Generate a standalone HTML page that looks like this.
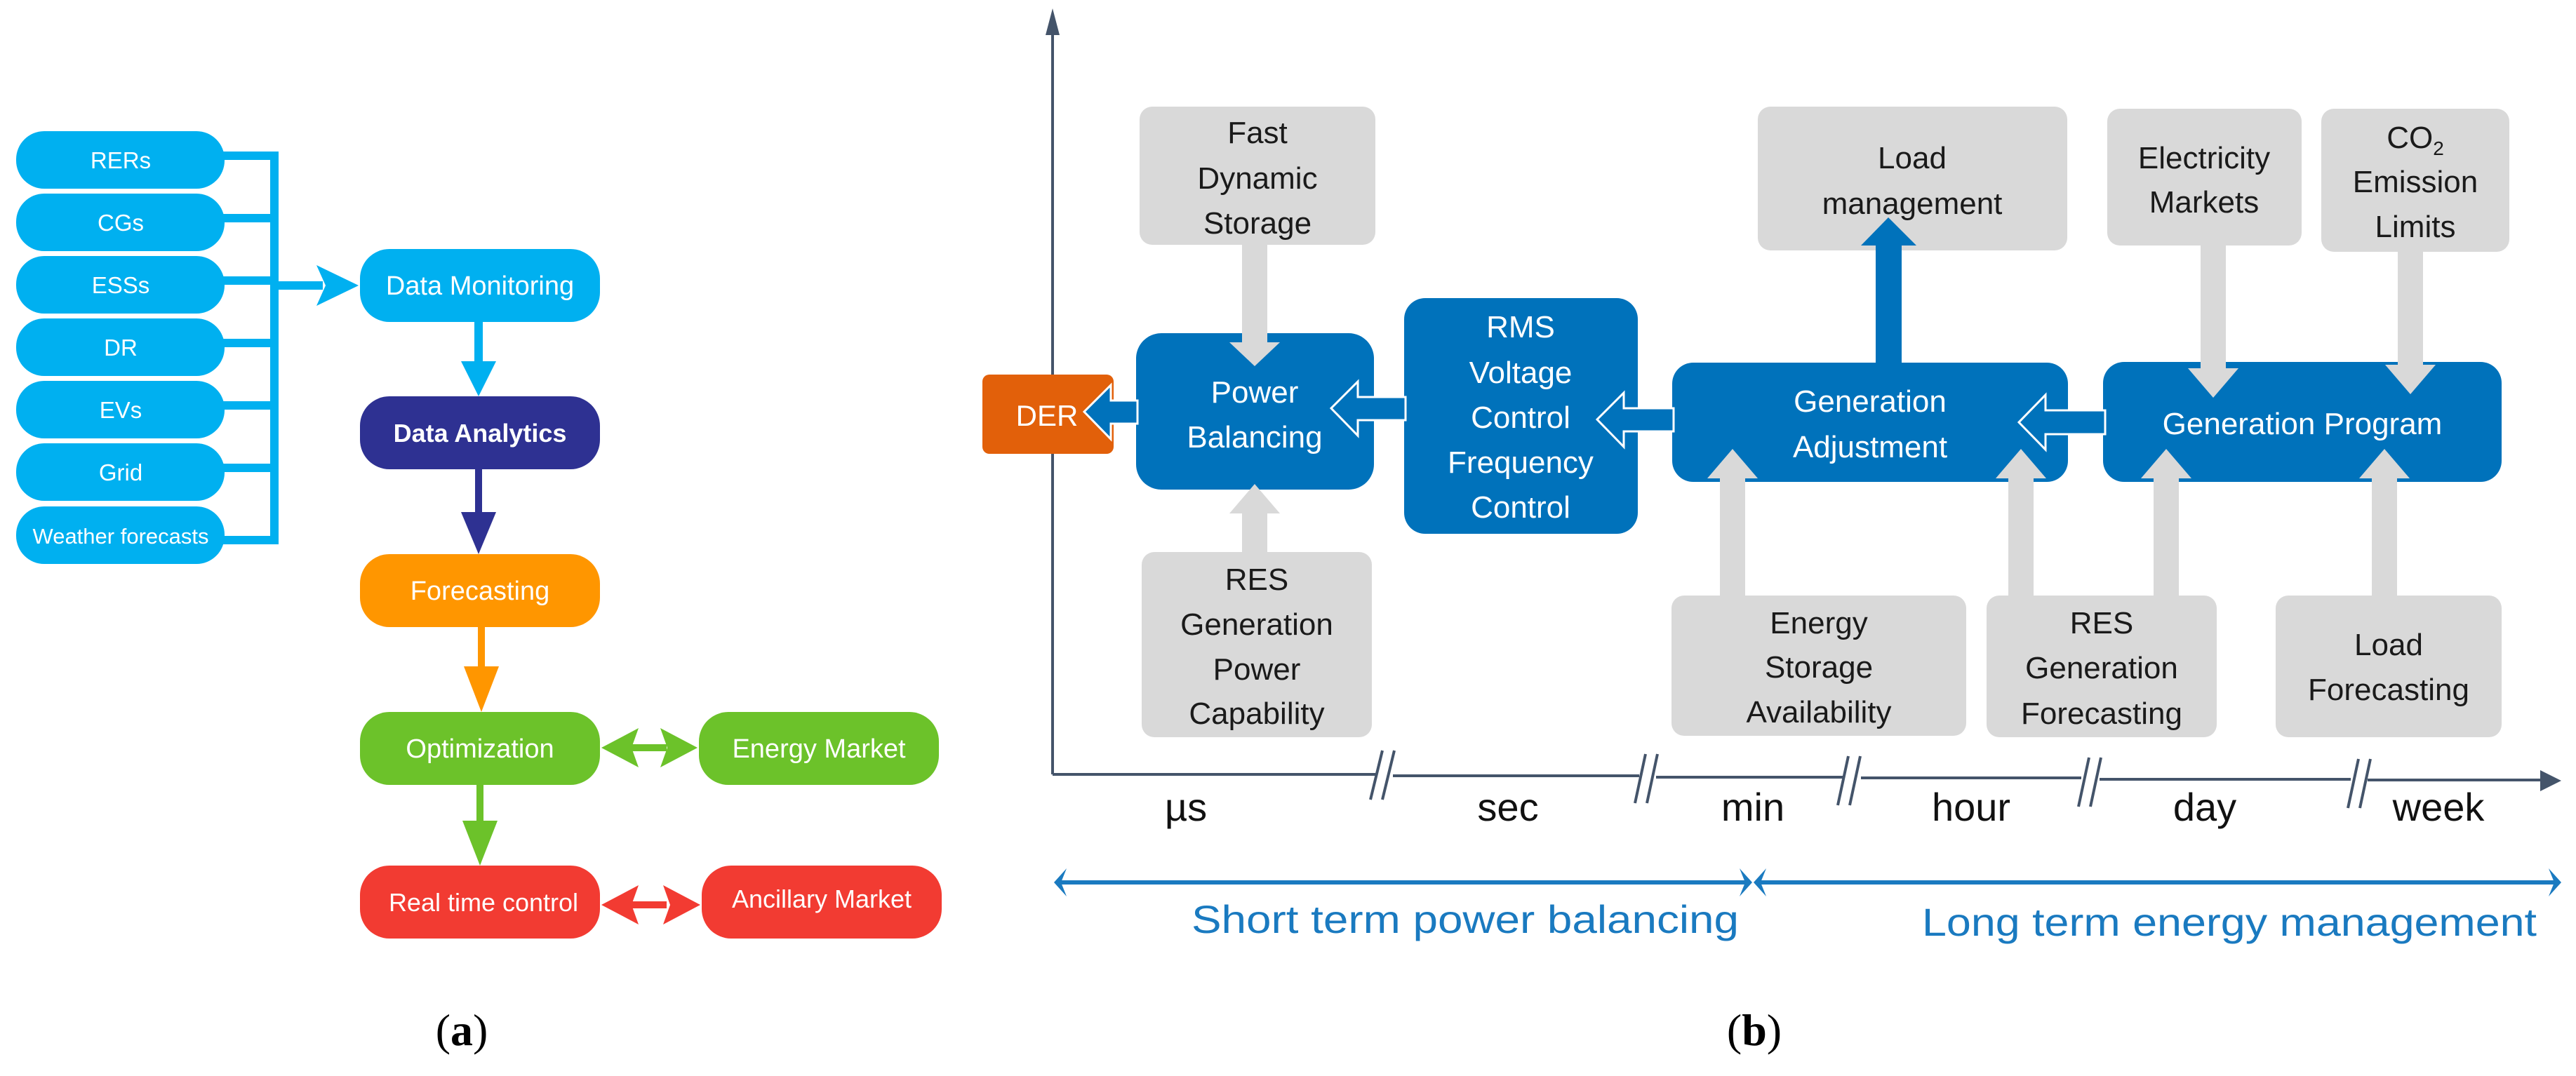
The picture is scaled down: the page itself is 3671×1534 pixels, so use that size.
<!DOCTYPE html>
<html><head><meta charset="utf-8"><style>html,body{margin:0;padding:0;background:#fff}svg{display:block}</style></head>
<body>
<svg width="3671" height="1534" viewBox="0 0 3671 1534" xmlns="http://www.w3.org/2000/svg" font-family="Liberation Sans, sans-serif">
<!-- Panel (a) -->
<g fill="#00b0f0">
<rect x="23" y="187" width="297" height="82" rx="40"/>
<rect x="23" y="276" width="297" height="82" rx="40"/>
<rect x="23" y="365" width="297" height="82" rx="40"/>
<rect x="23" y="454" width="297" height="82" rx="40"/>
<rect x="23" y="543" width="297" height="82" rx="40"/>
<rect x="23" y="632" width="297" height="82" rx="40"/>
<rect x="23" y="722" width="297" height="82" rx="40"/>
<rect x="513" y="355" width="342" height="104" rx="42"/>
</g>
<g stroke="#00b0f0" stroke-width="12" fill="none">
<path d="M318 222H391V770H318"/>
<path d="M318 311H391M318 400H391M318 489H391M318 578H391M318 667H391"/>
<path d="M391 407H460"/>
<path d="M682 458V525"/>
</g>
<polygon points="451,378 511,407 451,436 464,407" fill="#00b0f0"/>
<polygon points="657,515 707,515 682,565" fill="#00b0f0"/>
<g fill="#fff" font-size="33" text-anchor="middle">
<text x="172" y="240">RERs</text><text x="172" y="329">CGs</text><text x="172" y="418">ESSs</text>
<text x="172" y="507">DR</text><text x="172" y="596">EVs</text><text x="172" y="685">Grid</text>
<text x="172" y="775" font-size="31">Weather forecasts</text>
</g>
<rect x="513" y="565" width="342" height="104" rx="42" fill="#2e3192"/>
<rect x="513" y="790" width="342" height="104" rx="42" fill="#ff9600"/>
<rect x="513" y="1015" width="342" height="104" rx="42" fill="#6cc22a"/>
<rect x="996" y="1015" width="342" height="104" rx="42" fill="#6cc22a"/>
<rect x="513" y="1234" width="342" height="104" rx="42" fill="#f23b32"/>
<rect x="1000" y="1234" width="342" height="104" rx="42" fill="#f23b32"/>
<g stroke-width="10">
<path d="M682 669V740" stroke="#2e3192"/><polygon points="657,730 707,730 682,790" fill="#2e3192"/>
<path d="M686 894V960" stroke="#ff9600"/><polygon points="661,950 711,950 686,1015" fill="#ff9600"/>
<path d="M684 1119V1180" stroke="#6cc22a"/><polygon points="659,1170 709,1170 684,1234" fill="#6cc22a"/>
<path d="M900 1066H950" stroke="#6cc22a"/>
<polygon points="857,1066 910,1038 900,1066 910,1094" fill="#6cc22a"/>
<polygon points="994,1066 941,1038 951,1066 941,1094" fill="#6cc22a"/>
<path d="M900 1290H950" stroke="#f23b32"/>
<polygon points="857,1290 910,1262 900,1290 910,1318" fill="#f23b32"/>
<polygon points="998,1290 945,1262 955,1290 945,1318" fill="#f23b32"/>
</g>
<g fill="#fff" font-size="38" text-anchor="middle">
<text x="684" y="420">Data Monitoring</text>
<text x="684" y="630" font-weight="bold" font-size="36">Data Analytics</text>
<text x="684" y="855">Forecasting</text>
<text x="684" y="1080">Optimization</text>
<text x="1167" y="1080">Energy Market</text>
<text x="689" y="1299" font-size="36">Real time control</text>
<text x="1171" y="1294" font-size="36">Ancillary Market</text>
</g>
<text x="658" y="1490" text-anchor="middle" font-family="Liberation Serif, serif" font-size="64">(<tspan font-weight="bold">a</tspan>)</text>

<!-- Panel (b) -->
<g stroke="#44546a" stroke-width="4" fill="none">
<path d="M1500 1104V40"/>
<path d="M1500 1104H1960M1985 1106H2336M2360 1108H2626M2652 1109H2966M2992 1111H3350M3374 1112H3630"/>
<path d="M1968 1140L1985 1070M1985 1140L2002 1070" transform="translate(-15,0)"/>
<path d="M2330 1145L2345 1075M2347 1145L2362 1075"/>
<path d="M2619 1148L2634 1078M2636 1148L2651 1078"/>
<path d="M2962 1150L2977 1080M2979 1150L2994 1080"/>
<path d="M3346 1152L3361 1082M3363 1152L3378 1082"/>
</g>
<polygon points="1500,12 1490,50 1510,50" fill="#44546a"/>
<polygon points="3650,1113 3620,1098 3620,1128" fill="#44546a"/>
<g font-size="56" text-anchor="middle" fill="#111">
<text x="1690" y="1170">µs</text><text x="2149" y="1170">sec</text><text x="2498" y="1170">min</text>
<text x="2809" y="1170">hour</text><text x="3142" y="1170">day</text><text x="3475" y="1170">week</text>
</g>
<g stroke="#1a7ac0" stroke-width="6"><path d="M1510 1258H2490M2505 1258H3640"/></g>
<g fill="#1a7ac0">
<polygon points="1502,1258 1520,1238 1512,1258 1520,1278"/>
<polygon points="2497,1258 2479,1238 2487,1258 2479,1278"/>
<polygon points="2499,1258 2517,1238 2509,1258 2517,1278"/>
<polygon points="3650,1258 3632,1238 3640,1258 3632,1278"/>
</g>
<g fill="#1a7ac0" font-size="56" text-anchor="middle">
<text x="2088" y="1330" textLength="780" lengthAdjust="spacingAndGlyphs">Short term power balancing</text>
<text x="3177" y="1334" textLength="876" lengthAdjust="spacingAndGlyphs">Long term energy management</text>
</g>
<text x="2500" y="1490" text-anchor="middle" font-family="Liberation Serif, serif" font-size="64">(<tspan font-weight="bold">b</tspan>)</text>

<!-- gray boxes -->
<g fill="#d9d9d9">
<rect x="1624" y="152" width="336" height="197" rx="18"/>
<rect x="2505" y="152" width="441" height="205" rx="18"/>
<rect x="3003" y="155" width="277" height="195" rx="18"/>
<rect x="3308" y="155" width="268" height="204" rx="18"/>
<rect x="1627" y="787" width="328" height="264" rx="18"/>
<rect x="2382" y="849" width="420" height="200" rx="18"/>
<rect x="2831" y="849" width="328" height="202" rx="18"/>
<rect x="3243" y="849" width="322" height="202" rx="18"/>
</g>
<!-- blue boxes -->
<g fill="#0072bb">
<rect x="1619" y="475" width="339" height="223" rx="36"/>
<rect x="2001" y="425" width="333" height="336" rx="30"/>
<rect x="2383" y="517" width="564" height="170" rx="30"/>
<rect x="2997" y="516" width="568" height="171" rx="30"/>
</g>
<rect x="1400" y="534" width="187" height="113" rx="10" fill="#e2600a"/>
<!-- gray arrows -->
<g fill="#d9d9d9">
<rect x="1770" y="345" width="36" height="145"/><polygon points="1752,488 1824,488 1788,522"/>
<rect x="1770" y="730" width="36" height="60"/><polygon points="1752,732 1824,732 1788,690"/>
<rect x="2451" y="680" width="36" height="172"/><polygon points="2433,682 2505,682 2469,640"/>
<rect x="2862" y="680" width="36" height="172"/><polygon points="2844,682 2916,682 2880,640"/>
<rect x="3069" y="680" width="36" height="172"/><polygon points="3051,682 3123,682 3087,640"/>
<rect x="3380" y="680" width="36" height="172"/><polygon points="3362,682 3434,682 3398,640"/>
<rect x="3136" y="347" width="36" height="180"/><polygon points="3118,525 3190,525 3154,567"/>
<rect x="3417" y="356" width="36" height="166"/><polygon points="3399,520 3471,520 3435,562"/>
</g>
<!-- blue connectors -->
<g fill="#0072bb">
<rect x="2673" y="345" width="37" height="175"/><polygon points="2652,350 2731,350 2691,310"/>
<g stroke="#fff" stroke-width="3">
<polygon points="3000,585 2915,585 2915,563 2877,602 2915,641 2915,619 3000,619"/>
<polygon points="2385,582 2314,582 2314,560 2276,598 2314,637 2314,615 2385,615"/>
<polygon points="2003,566 1935,566 1935,544 1897,582 1935,621 1935,599 2003,599"/>
<polygon points="1621,571 1583,571 1583,549 1545,587 1583,626 1583,604 1621,604"/>
</g>
</g>
<!-- labels -->
<g font-size="44" text-anchor="middle" fill="#1a1a1a">
<text x="1792" y="204">Fast</text><text x="1792" y="269">Dynamic</text><text x="1792" y="333">Storage</text>
<text x="2725" y="240">Load</text><text x="2725" y="305">management</text>
<text x="3141" y="240">Electricity</text><text x="3141" y="303">Markets</text>
<text x="3442" y="211">CO<tspan font-size="28" dy="10">2</tspan></text><text x="3442" y="274">Emission</text><text x="3442" y="338">Limits</text>
<text x="1791" y="841">RES</text><text x="1791" y="905">Generation</text><text x="1791" y="969">Power</text><text x="1791" y="1032">Capability</text>
<text x="2592" y="903">Energy</text><text x="2592" y="966">Storage</text><text x="2592" y="1030">Availability</text>
<text x="2995" y="903">RES</text><text x="2995" y="967">Generation</text><text x="2995" y="1032">Forecasting</text>
<text x="3404" y="934">Load</text><text x="3404" y="998">Forecasting</text>
</g>
<g font-size="44" text-anchor="middle" fill="#fff">
<text x="1788" y="574">Power</text><text x="1788" y="638">Balancing</text>
<text x="2167" y="481">RMS</text><text x="2167" y="546">Voltage</text><text x="2167" y="610">Control</text><text x="2167" y="674">Frequency</text><text x="2167" y="738">Control</text>
<text x="2665" y="587">Generation</text><text x="2665" y="652">Adjustment</text>
<text x="3281" y="619">Generation Program</text>
<text x="1492" y="607" font-size="42">DER</text>
</g>
</svg>
</body></html>
